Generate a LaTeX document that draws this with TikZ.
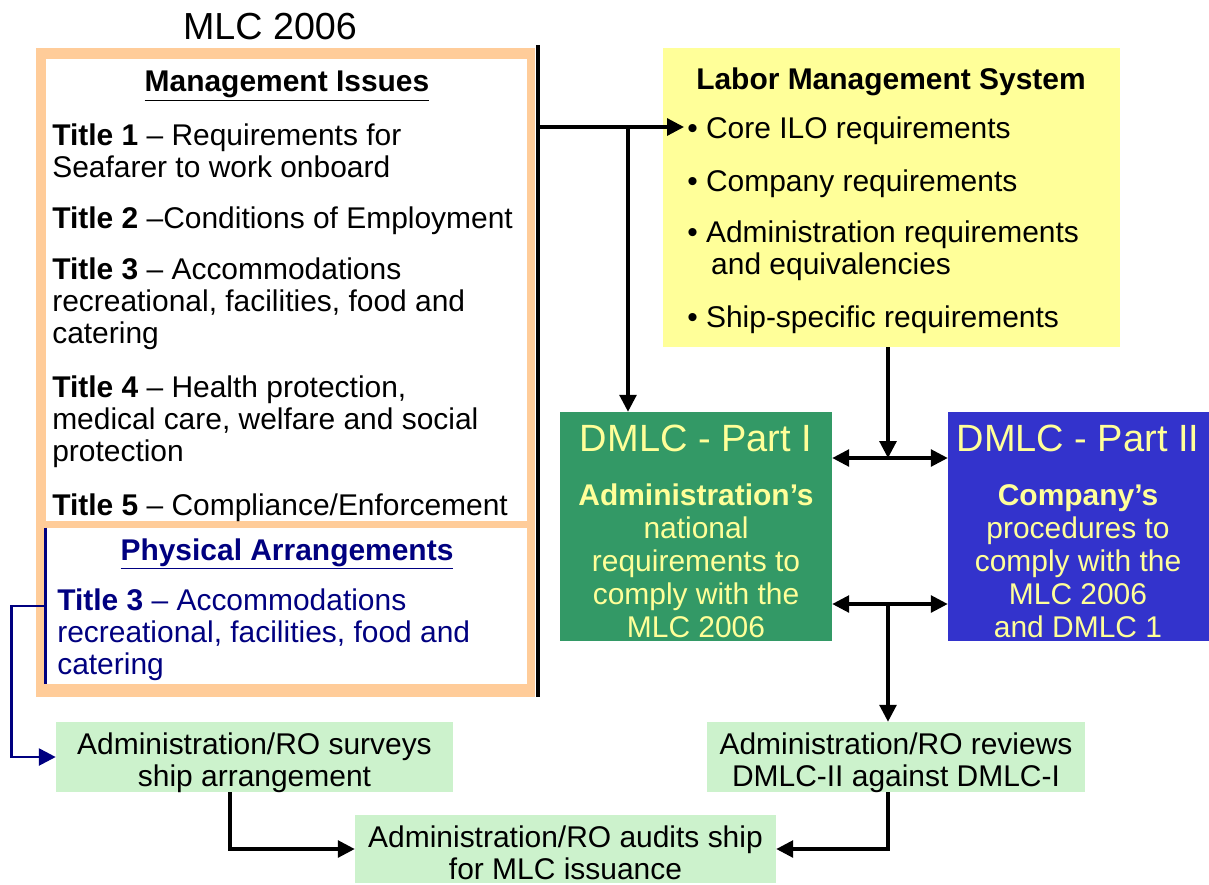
\documentclass[tikz,border=0pt]{standalone}
\usepackage{fontspec}
\setmainfont{Liberation Sans}
\usetikzlibrary{arrows.meta}
\definecolor{peach}{HTML}{FFCC99}
\definecolor{lyellow}{HTML}{FFFF99}
\definecolor{lgreen}{HTML}{CCF2CC}
\definecolor{dgreen}{HTML}{339966}
\definecolor{dblue}{HTML}{3333CC}
\definecolor{navy}{HTML}{000080}
\newlength\pxu
\setlength\pxu{0.025cm}
\tikzset{
  box/.style = {rectangle, inner sep=0pt, draw=none},
  txt/.style = {inner sep=0pt, font=\fontsize{21.3}{22.8}\selectfont},
  txt_l/.style = {txt, anchor=west, align=left},% texte a gauche
  txt_c/.style = {txt, align=center},
  head_d/.style = {inner sep=0pt, text=lyellow,
    font=\fontsize{27}{30}\selectfont},% titre DMLC
  body_d/.style = {txt_c, text=lyellow,
    font=\fontsize{21.3}{23.5}\selectfont},
  box_g/.style = {box, fill=lgreen},
  conn/.style = {line width=2.2pt, -{Triangle[length=0.42cm, width=0.42cm]}},
  dbl/.style = {line width=2.2pt,
    {Triangle[length=0.42cm, width=0.42cm]}-{Triangle[length=0.42cm, width=0.42cm]}}
}
\begin{document}
\begin{tikzpicture}[x=0.025cm, y=-0.025cm]
  \useasboundingbox (0,0) rectangle (1209,884);
  % MLC 2006
  \node[inner sep=0pt, font=\fontsize{26.8}{30}\selectfont] (title) at (270,27) {MLC 2006};
  \node[box, fill=peach, minimum width=499\pxu, minimum height=649\pxu] (mlc) at (285.5,372.5) {};
  \node[box, fill=white, minimum width=481\pxu, minimum height=462\pxu] (issues) at (286.5,290) {};
  \node[box, fill=white, minimum width=481\pxu, minimum height=156\pxu] (phys) at (286.5,606) {};
  \draw[navy, line width=2pt] (phys.north west) -- (phys.south west);
  \node[txt] (h_issues) at (287,86) {\textbf{\underline{Management Issues}}};
  \node[txt_l] (t1) at (52,151) {\textbf{Title 1} – Requirements for\\Seafarer to work onboard};
  \node[txt_l] (t2) at (52,221) {\textbf{Title 2} –Conditions of Employment};
  \node[txt_l] (t3) at (52,304) {\textbf{Title 3} – Accommodations\\recreational, facilities, food and\\catering};
  \node[txt_l] (t4) at (52,422) {\textbf{Title 4} – Health protection,\\medical care, welfare and social\\protection};
  \node[txt_l] (t5) at (52,508) {\textbf{Title 5} – Compliance/Enforcement};
  \node[txt, text=navy] (h_phys) at (287,554) {\textbf{\underline{Physical Arrangements}}};
  \node[txt_l, text=navy] (p3) at (57,635) {\textbf{Title 3} – Accommodations\\recreational, facilities, food and\\catering};
  \coordinate (bar_t) at (538,45);
  \coordinate (bar_b) at (538,697);
  \draw[line width=2.2pt] (bar_t) -- (bar_b);
  % Labor Management System
  \node[box, fill=lyellow, minimum width=457\pxu, minimum height=299\pxu] (lms) at (891.5,197.5) {};
  \node[txt] (h_lms) at (891,82) {\textbf{Labor Management System}};
  \node[txt_l] (b1) at (687,131) {• Core ILO requirements};
  \node[txt_l] (b2) at (687,184) {• Company requirements};
  \node[txt_l] (b3) at (687,251) {• Administration requirements\\\hspace*{17pt}and equivalencies};
  \node[txt_l] (b4) at (687,320) {• Ship-specific requirements};
  % DMLC
  \node[box, fill=dgreen, minimum width=272\pxu, minimum height=229\pxu] (partI) at (696,526.5) {};
  \node[head_d] (h_partI) at (696,438) {DMLC - Part I};
  \node[body_d] (d_partI) at (696,561) {\textbf{Administration’s}\\national\\requirements to\\comply with the\\MLC 2006};
  \node[box, fill=dblue, minimum width=261\pxu, minimum height=229\pxu] (partII) at (1078.5,526.5) {};
  \node[head_d] (h_partII) at (1078,438) {DMLC - Part II};
  \node[body_d] (d_partII) at (1078,561) {\textbf{Company’s}\\procedures to\\comply with the\\MLC 2006\\and DMLC 1};
  % etapes
  \node[box_g, minimum width=397\pxu, minimum height=70\pxu] (survey) at (254.5,757) {};
  \node[txt_c] (survey_t) at (254.5,763) {Administration/RO surveys\\ship arrangement};
  \node[box_g, minimum width=378\pxu, minimum height=70\pxu] (review) at (896,757) {};
  \node[txt_c] (review_t) at (896,763) {Administration/RO reviews\\DMLC-II against DMLC-I};
  \node[box_g, minimum width=421\pxu, minimum height=68\pxu] (audit) at (565.5,849) {};
  \node[txt_c] (audit_t) at (565.5,853) {Administration/RO audits ship\\for MLC issuance};
  % liens
  \coordinate (core) at (684,127);
  \coordinate (split) at (628,127);
  \coordinate (j1) at (888,458);
  \coordinate (j2) at (888,604);
  \coordinate (s_out) at (230,792);
  \draw[conn] (bar_t |- core) -- (core);
  \draw[conn] (split) -- (split |- partI.north);
  \draw[conn] (lms.south -| j1) -- (j1);
  \draw[dbl] (partI.east |- j1) -- (partII.west |- j1);
  \draw[dbl] (partI.east |- j2) -- (partII.west |- j2);
  \draw[conn] (j2) -- (j2 |- review.north);
  \draw[conn] (review.south -| j2) |- (audit.east);
  \draw[conn] (s_out) |- (audit.west);
  \draw[conn, navy, line width=2pt] (phys.west) -- ++(-34,0) |- (survey.west);
\end{tikzpicture}
\end{document}
